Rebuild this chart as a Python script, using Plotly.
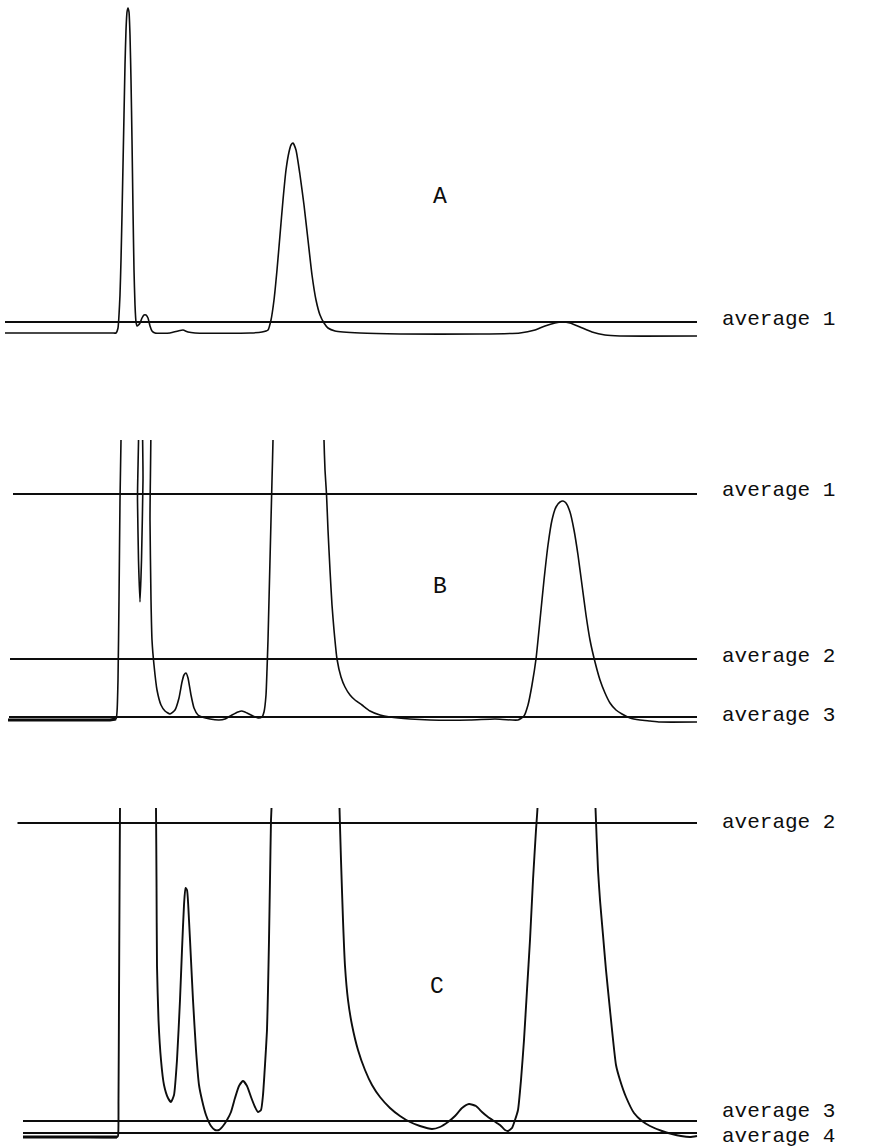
import plotly.graph_objects as go

# ---------------- data (time in min, response in arbitrary units above baseline) -------------
OFF = 400  # off-scale (pen beyond chart top)

a_time = [0.25, 3.0, 5.6, 5.8, 5.9, 5.95, 6.0, 6.05, 6.1, 6.15, 6.2, 6.25, 6.3, 6.35, 6.4, 6.45,
          6.5, 6.55, 6.6, 6.65, 6.7, 6.75, 6.8, 6.85, 6.925, 7.0, 7.1, 7.2, 7.3, 7.4, 7.5, 7.6,
          7.75, 8.5, 8.9, 9.15, 9.4, 9.75, 12.5, 13.1, 13.4, 13.55, 13.7, 13.85, 14.0, 14.15,
          14.3, 14.45, 14.55, 14.65, 14.8, 15.0, 15.2, 15.4, 15.6, 15.8, 16.0, 16.2, 16.4,
          16.75, 18.0, 20.0, 24.0, 26.0, 26.75, 27.25, 27.75, 28.1, 28.5, 29.0, 29.6, 30.25,
          31.0, 34.85]
a_signal = [0, 0, 0, 0, 5, 18, 38, 73, 118, 168, 218, 268, 303, 321, 325, 321,
            298, 253, 193, 123, 63, 28, 11, 7, 8, 10, 15, 18, 18, 15, 7, 2,
            0, 0, 2, 3, 1, 0, 0, 1, 3, 13, 33, 63, 98, 133,
            163, 181, 188, 190, 183, 158, 128, 93, 58, 33, 18, 10, 5,
            2, 0, -1, -1, 0, 3, 7, 10, 11, 10, 6, 1, -2,
            -3, -3]

b_time = [0.4, 3.0, 5.5, 5.8, 5.85, 5.9, 5.95, 6.0, 6.05, 6.1, 6.8, 6.875, 6.925, 7.0, 7.075,
          7.15, 7.2, 7.45, 7.5, 7.55, 7.6, 7.7, 7.85, 8.05, 8.25, 8.5, 8.75, 8.95, 9.1, 9.2,
          9.3, 9.4, 9.55, 9.7, 9.9, 10.1, 10.5, 10.95, 11.25, 11.6, 11.9, 12.1, 12.35, 12.65,
          12.9, 13.1, 13.2, 13.3, 13.35, 13.4, 13.45, 13.5, 13.55, 13.6, 13.65, 13.7, 16.15,
          16.2, 16.25, 16.325, 16.4, 16.5, 16.6, 16.7, 16.85, 17.05, 17.25, 17.5, 17.75, 18.1,
          18.5, 19.0, 19.5, 20.5, 21.5, 23.5, 24.75, 25.9, 26.2, 26.4, 26.6, 26.8, 27.0, 27.2,
          27.4, 27.6, 27.8, 28.0, 28.15, 28.3, 28.5, 28.7, 28.9, 29.1, 29.3, 29.5, 29.75, 30.0,
          30.25, 30.5, 30.8, 31.1, 31.5, 32.0, 32.5, 33.0, 34.85]
b_signal = [0, 0, 0, 1, 8, 40, 120, 220, 280, OFF, OFF, 220, 160, 118, 160,
            240, OFF, OFF, 200, 120, 80, 55, 30, 15, 9, 6, 10, 22, 38, 45,
            47, 42, 25, 12, 5, 3, 1, 0, 1, 5, 8, 9, 7, 4,
            2, 3, 8, 25, 50, 80, 120, 160, 200, 240, 280, OFF, OFF,
            280, 250, 226, 190, 150, 115, 90, 61, 43, 33, 25, 20, 15,
            9, 5, 3, 1, 0, 0, 1, 0, 4, 15, 35, 61, 100, 140,
            175, 200, 213, 218, 219, 217, 208, 190, 165, 135, 105, 80, 58, 40,
            27, 17, 10, 6, 2, 0, -1, -2, -2]

c_time = [1.15, 4.0, 5.85, 5.9, 5.925, 5.95, 5.975, 6.0, 6.025, 7.75, 7.8, 7.825, 7.85, 7.925,
          8.05, 8.2, 8.4, 8.55, 8.7, 8.85, 9.0, 9.1, 9.2, 9.275, 9.35, 9.45, 9.55, 9.65, 9.8,
          9.95, 10.1, 10.3, 10.55, 10.75, 10.95, 11.15, 11.35, 11.55, 11.75, 11.95, 12.15,
          12.35, 12.55, 12.75, 12.9, 13.05, 13.15, 13.25, 13.35, 13.4, 13.45, 13.5, 13.55,
          13.575, 13.6, 16.9, 16.975, 17.05, 17.15, 17.25, 17.4, 17.6, 17.9, 18.25, 18.6, 19.0,
          19.5, 20.0, 20.5, 21.0, 21.6, 22.0, 22.4, 22.75, 23.1, 23.45, 23.8, 24.1, 24.4, 24.7,
          25.0, 25.25, 25.4, 25.6, 25.75, 25.9, 26.05, 26.2, 26.35, 26.5, 26.65, 26.8, 26.875,
          26.95, 29.7, 29.775, 29.9, 30.0, 30.15, 30.3, 30.5, 30.8, 31.0, 31.3, 31.7, 32.1,
          32.5, 33.1, 33.6, 34.05, 34.5, 34.85]
c_signal = [0, 0, 0, 1, 37, 137, 237, 329, OFF, OFF, 329, 257, 171, 117,
            77, 52, 39, 35, 42, 77, 137, 187, 232, 249, 247, 217, 177, 137, 87,
            52, 37, 22, 11, 7, 7, 11, 17, 25, 39, 51, 56,
            51, 40, 30, 25, 27, 42, 72, 107, 147, 197, 257, 317,
            329, OFF, OFF, 329, 277, 217, 171, 137, 112, 87, 67, 52, 40,
            29, 21, 15, 11, 8, 10, 15, 21, 29, 33, 31, 25, 20, 16,
            12, 7, 6, 9, 17, 27, 57, 97, 147, 197, 257, 307, 329,
            OFF, OFF, 329, 267, 237, 202, 167, 127, 72, 57, 40, 24, 16,
            11, 6, 3, 1, 0, 1]

# reference ("average") lines per panel
a_avg_names = ["average 1"]
a_avg_levels = [11]
a_avg_start = [0.25]
a_avg_label_pos = [14]

b_avg_names = ["average 1", "average 2", "average 3"]
b_avg_levels = [226, 61, 3]
b_avg_start = [0.65, 0.5, 0.45]
b_avg_label_pos = [229, 64, 5]

c_avg_names = ["average 2", "average 3", "average 4"]
c_avg_levels = [314, 16, 4]
c_avg_start = [0.875, 1.15, 1.15]
c_avg_label_pos = [315, 26, 1]

avg_end = 34.85

panel_names = ["A", "B", "C"]
panel_label_time = [22.0, 22.0, 21.85]
panel_label_level = [136, 133, 150]

# number of leading points forming the (heavier) pre-injection baseline
pre_baseline_pts = [0, 4, 3]

# ---------------- figure ----------------
INK = "#0d0d0d"
FONT = "Courier New, Liberation Mono, monospace"

fig = go.Figure()
panels = [
    ("x", "y", a_time, a_signal, a_avg_names, a_avg_levels, a_avg_start, a_avg_label_pos),
    ("x2", "y2", b_time, b_signal, b_avg_names, b_avg_levels, b_avg_start, b_avg_label_pos),
    ("x3", "y3", c_time, c_signal, c_avg_names, c_avg_levels, c_avg_start, c_avg_label_pos),
]

for i, (xa, ya, t, s, names, levels, starts, lpos) in enumerate(panels):
    for lvl, st in zip(levels, starts):
        fig.add_trace(go.Scatter(x=[st, avg_end], y=[lvl, lvl], mode="lines",
                                 line=dict(color=INK, width=2.2), xaxis=xa, yaxis=ya,
                                 hoverinfo="skip"))
    n0 = pre_baseline_pts[i]
    if n0:
        fig.add_trace(go.Scatter(x=t[:n0], y=s[:n0], mode="lines",
                                 line=dict(color=INK, width=3.2),
                                 xaxis=xa, yaxis=ya, hoverinfo="skip"))
    fig.add_trace(go.Scatter(x=t, y=s, mode="lines",
                             line=dict(color=INK, width=1.6 if i < 2 else 1.9,
                                       shape="spline", smoothing=0.5),
                             xaxis=xa, yaxis=ya, hoverinfo="skip"))
    for name, p in zip(names, lpos):
        fig.add_annotation(x=0.822, xref="paper", y=p, yref=ya, text=name,
                           showarrow=False, xanchor="left", yanchor="middle",
                           font=dict(family=FONT, size=21, color=INK))
    fig.add_annotation(x=panel_label_time[i], xref=xa, y=panel_label_level[i], yref=ya,
                       text=panel_names[i], showarrow=False, xanchor="center",
                       yanchor="middle", font=dict(family=FONT, size=23, color=INK))

H = 1147.0
axis_common = dict(showgrid=False, zeroline=False, showticklabels=False, showline=False,
                   ticks="", fixedrange=True)
fig.update_layout(
    width=876, height=1147,
    margin=dict(l=0, r=0, t=0, b=0),
    paper_bgcolor="white", plot_bgcolor="white",
    showlegend=False,
    xaxis=dict(domain=[0, 1], range=[0, 43.8], anchor="y", **axis_common),
    xaxis2=dict(domain=[0, 1], range=[0, 43.8], anchor="y2", **axis_common),
    xaxis3=dict(domain=[0, 1], range=[0, 43.8], anchor="y3", **axis_common),
    yaxis=dict(domain=[1 - 345 / H, 1], range=[-12, 333], anchor="x", **axis_common),
    yaxis2=dict(domain=[1 - 735 / H, 1 - 440 / H], range=[-15, 280], anchor="x2", **axis_common),
    yaxis3=dict(domain=[0, 1 - 808 / H], range=[-10, 329], anchor="x3", **axis_common),
)

fig.write_html("out.html")
